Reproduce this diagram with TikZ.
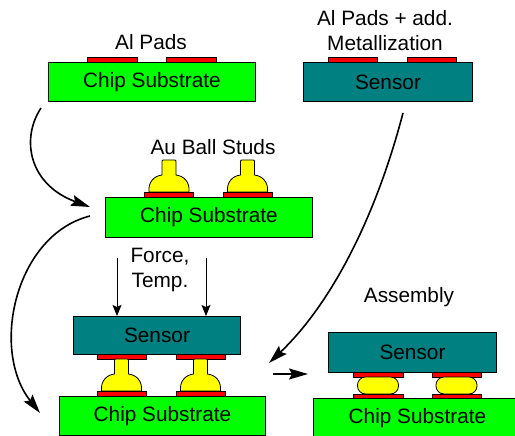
\documentclass[tikz,border=0pt]{standalone}
\usepackage{fontspec}
\setmainfont{Liberation Sans}
\usetikzlibrary{arrows.meta}
\definecolor{chipgreen}{HTML}{00FF00}
\definecolor{sensorteal}{HTML}{008080}
\definecolor{padred}{HTML}{FF0000}
\definecolor{studyellow}{HTML}{FFFF00}

\begin{document}
\begin{tikzpicture}[x=1pt,y=-1pt,
  every node/.style={font=\fontsize{20.8}{25}\selectfont, inner sep=0pt},
  layer/.style={draw=black, line width=1pt, rectangle, anchor=north west},
  substrate/.style={layer, fill=chipgreen},
  sensorbox/.style={layer, fill=sensorteal},
  padbox/.style={rectangle, draw=black, line width=0.6pt, fill=padred,
    anchor=north west, minimum width=49pt, minimum height=5pt},
  goldball/.style={draw=black, line width=0.8pt, fill=studyellow},
  flowarrow/.style={line width=1.6pt, -{Stealth[length=19pt,width=11pt,inset=3pt]}},
  pressarrow/.style={line width=1pt, -{Stealth[length=11pt,width=9pt,inset=2pt]}},
  ballstud/.pic={
    \path[goldball] (-20,32) .. controls (-21,22) and (-15,16) .. (-7,15)
      -- (-7,2) .. controls (-7,0) .. (-5,0) -- (5,0) .. controls (7,0) .. (7,2)
      -- (7,15) .. controls (15,16) and (21,22) .. (20,32) -- cycle;
  },
  flatball/.pic={
    \path[goldball, rounded corners=8pt] (-20.5,0) rectangle (20.5,17);
  }
]
\useasboundingbox (0,0) rectangle (515,436);
\clip (0,0) rectangle (515,436);

% --- bare chip with Al pads ---
\node[substrate, minimum width=207pt, minimum height=39pt] (sub1) at (48,62) {Chip Substrate};
\node[padbox, minimum width=50pt] (sub1pa) at (87,57) {};
\node[padbox, minimum width=50pt] (sub1pb) at (166,57) {};
\node (lblpads) at (151,42) {Al Pads};

% --- sensor with pads and extra metallization ---
\node[sensorbox, minimum width=169pt, minimum height=39pt] (sen1) at (303,62) {Sensor};
\node[padbox] (sen1pa) at (328,57) {};
\node[padbox] (sen1pb) at (407,57) {};
\node[align=center] (lblmetal) at (385,30.5) {Al Pads + add.\\Metallization};

% --- chip with gold ball studs ---
\node[substrate, minimum width=207pt, minimum height=40pt] (sub2) at (105,197) {Chip Substrate};
\node[padbox] (sub2pa) at (144,192) {};
\node[padbox] (sub2pb) at (223,192) {};
\pic at (169,160) {ballstud};
\pic at (247.5,160) {ballstud};
\node (lblstuds) at (213,147) {Au Ball Studs};

% --- flip-chip bonding under force and temperature ---
\node[sensorbox, minimum width=167pt, minimum height=38pt] (sen2) at (73,316) {Sensor};
\node[padbox] (sen2pa) at (97,354) {};
\node[padbox] (sen2pb) at (176,354) {};
\pic at (121.5,359) {ballstud};
\pic at (200.5,359) {ballstud};
\node[padbox] (sub3pa) at (97,391) {};
\node[padbox] (sub3pb) at (176,391) {};
\node[substrate, minimum width=206pt, minimum height=39pt] (sub3) at (59,396) {Chip Substrate};
\node[align=center] (lblforce) at (160,270.5) {Force,\\Temp.};
\coordinate (fa1) at (117,258);
\coordinate (fa2) at (206,258);
\draw[pressarrow] (fa1) -- (fa1 |- sen2.north);
\draw[pressarrow] (fa2) -- (fa2 |- sen2.north);

% --- finished assembly ---
\node[sensorbox, minimum width=168pt, minimum height=40pt] (sen3) at (328,332) {Sensor};
\node[padbox, minimum width=50pt] (sen3pa) at (353,372) {};
\node[padbox] (sen3pb) at (432,372) {};
\pic at (378,377) {flatball};
\pic at (456.5,377) {flatball};
\node[padbox, minimum width=50pt] (sub4pa) at (353,394) {};
\node[padbox] (sub4pb) at (432,394) {};
\node[substrate, minimum width=208pt, minimum height=40pt] (sub4) at (313,398) {Chip Substrate};
\node (lblassembly) at (409,297) {Assembly};

% --- process flow arrows ---
\coordinate (a1s) at (41,108);
\coordinate (a1e) at (90,207);
\coordinate (a2s) at (90,216);
\coordinate (a2e) at (40,413);
\coordinate (a3s) at (403,113);
\coordinate (a3e) at (269,363);
\coordinate (a4s) at (273,374);
\coordinate (a4e) at (308,374);
\draw[flowarrow] (a1s) .. controls (20,140) and (30,185) .. (a1e);
\draw[flowarrow] (a2s) .. controls (15,235) and (-10,350) .. (a2e);
\draw[flowarrow] (a3s) .. controls (375,220) and (330,305) .. (a3e);
\draw[flowarrow] (a4s) -- (a4e);
\end{tikzpicture}
\end{document}
